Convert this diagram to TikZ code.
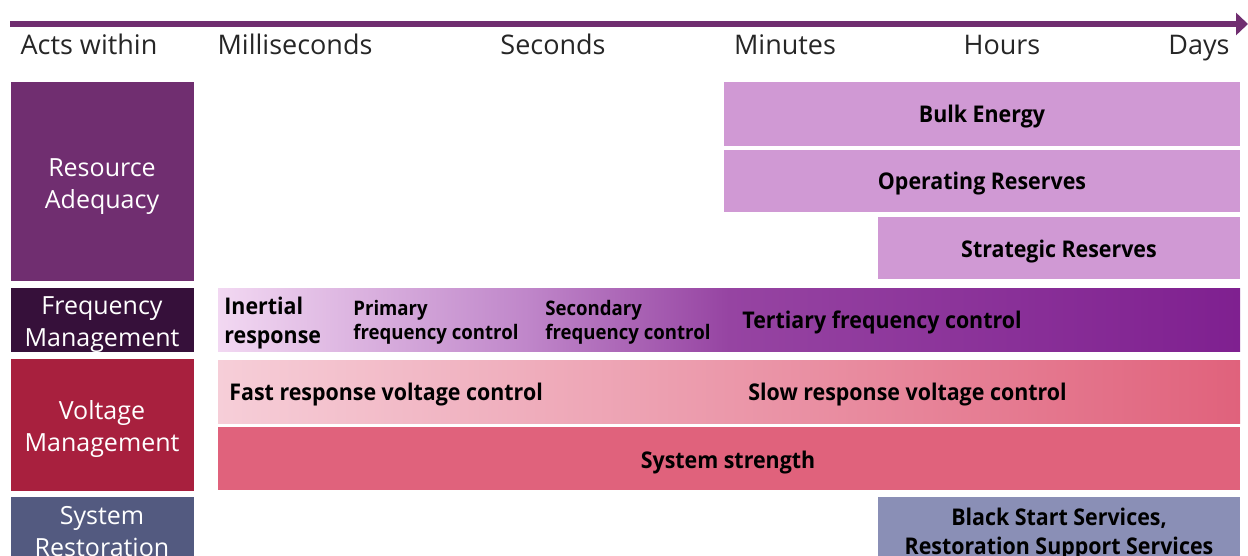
\documentclass[tikz,border=0pt]{standalone}
\usepackage{fontspec}
\setmainfont{Open Sans}[BoldFeatures={FakeStretch=0.93}]
\usetikzlibrary{arrows.meta}

\definecolor{axispurple}{RGB}{112, 46, 112}
\definecolor{hdrgray}{RGB}{38, 38, 38}
\definecolor{rapurple}{RGB}{112, 46, 112}
\definecolor{fmdark}{RGB}{54, 16, 58}
\definecolor{vmred}{RGB}{168, 32, 62}
\definecolor{srblue}{RGB}{83, 90, 128}
\definecolor{lilac}{RGB}{208, 153, 212}
\definecolor{sspink}{RGB}{224, 98, 124}
\definecolor{vlight}{RGB}{246, 206, 216}
\definecolor{bsblue}{RGB}{138, 143, 182}
\definecolor{freqA}{RGB}{242, 216, 242}
\definecolor{freqB}{RGB}{192, 135, 202}
\definecolor{freqC}{RGB}{150, 68, 162}
\definecolor{freqD}{RGB}{127, 32, 144}

\pgfdeclarehorizontalshading{freqshade}{100bp}{color(0bp)=(freqA); color(25bp)=(freqA);
  color(40bp)=(freqB); color(50bp)=(freqC); color(75bp)=(freqD); color(100bp)=(freqD)}

\begin{document}
\begin{tikzpicture}[x=0.5pt, y=-0.5pt,
  hdr/.style={font=\fontsize{13.5}{16}\selectfont, text=hdrgray, anchor=base},
  cat/.style={font=\fontsize{12.5}{16}\selectfont, text=white, align=center},
  lbl/.style={font=\fontsize{11.5}{14.5}\selectfont\bfseries, text=black},
  sublbl/.style={font=\fontsize{10}{12}\selectfont\bfseries, text=black, align=left, anchor=west, inner sep=0pt}]
  \useasboundingbox (0,0) rectangle (1248,556);
  \clip (0,0) rectangle (1248,556);

  % Time axis
  \coordinate (axisL) at (10,24);
  \coordinate (axisR) at (1248,24);
  \draw[axispurple, line width=3pt, -{Triangle[length=6pt, width=11pt]}] (axisL) -- (axisR);

  % Time scale
  \node[hdr] (acts) at (89,55) {Acts within};
  \node[hdr] (msec) at (295,55) {Milliseconds};
  \node[hdr] (sec) at (553,55) {Seconds};
  \node[hdr] (mins) at (785,55) {Minutes};
  \node[hdr] (hrs) at (1002,55) {Hours};
  \node[hdr] (days) at (1199,55) {Days};

  % Resource adequacy
  \fill[rapurple] (11,82) rectangle (194,281);
  \node[cat] (ra) at (102,187) {Resource\\Adequacy};
  \fill[lilac] (724,82) rectangle (1240,146);
  \node[lbl, anchor=base] (bulk) at (982,123) {Bulk Energy};
  \fill[lilac] (724,150) rectangle (1240,212);
  \node[lbl, anchor=base] (opres) at (982,190) {Operating Reserves};
  \fill[lilac] (878,217) rectangle (1240,279);
  \node[lbl, anchor=base] (stres) at (1059,257) {Strategic Reserves};

  % Frequency management
  \fill[fmdark] (11,288) rectangle (194,352);
  \node[cat] (fm) at (102,325) {Frequency\\Management};
  \shade[shading=freqshade] (218,288) rectangle (1240,351);
  \node[lbl, align=left, anchor=west, inner sep=0pt] (inertial) at (224,323) {Inertial\\response};
  \node[sublbl] (primary) at (353,322) {Primary\\frequency control};
  \node[sublbl] (secondary) at (545,322) {Secondary\\frequency control};
  \node[lbl, anchor=base west, inner sep=0pt] (tertiary) at (742,328) {Tertiary frequency control};

  % Voltage management
  \fill[vmred] (11,359) rectangle (194,491);
  \node[cat] (vm) at (102,429) {Voltage\\Management};
  \shade[left color=vlight, right color=sspink] (218,360) rectangle (1240,423);
  \node[lbl, anchor=base west, inner sep=0pt] (fastv) at (229,400) {Fast response voltage control};
  \node[lbl, anchor=base west, inner sep=0pt] (slowv) at (748,400) {Slow response voltage control};
  \fill[sspink] (218,427) rectangle (1240,490);
  \node[lbl, anchor=base] (strength) at (728,468) {System strength};

  % System restoration
  \fill[srblue] (11,497) rectangle (194,600);
  \node[cat] (sr) at (102,532) {System\\Restoration};
  \fill[bsblue] (878,497) rectangle (1240,600);
  \node[lbl, align=center] (blackstart) at (1059,534) {Black Start Services,\\Restoration Support Services};
\end{tikzpicture}
\end{document}
